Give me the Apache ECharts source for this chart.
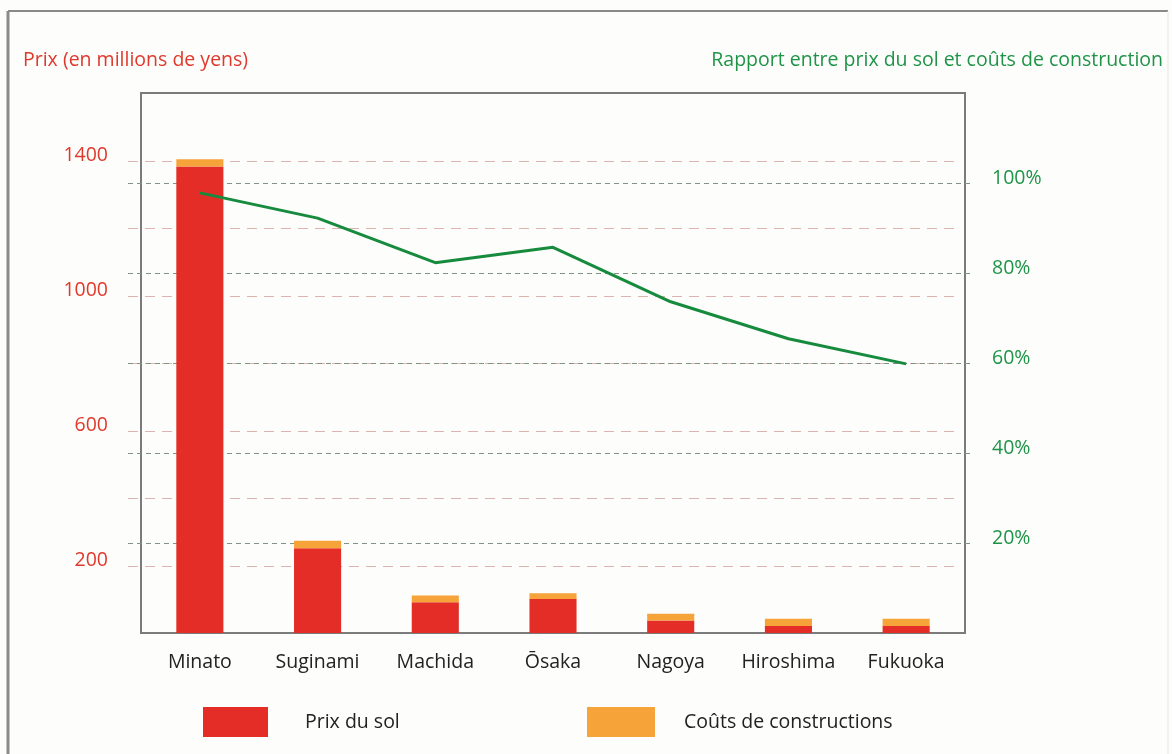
<!DOCTYPE html>
<html><head><meta charset="utf-8">
<script src="https://cdn.jsdelivr.net/npm/echarts@6/dist/echarts.min.js"></script>
<style>html,body{margin:0;padding:0;background:#fdfdfb}#c{width:1172px;height:754px}</style>
</head><body><div id="c"></div>
<script>
const categories = ['Minato', 'Suginami', 'Machida', 'Ōsaka', 'Nagoya', 'Hiroshima', 'Fukuoka'];
const landPrice = [1382, 251, 91, 101, 37, 21, 21];
const constructionCost = [22, 22, 20, 17, 20, 21, 21];
const ratioPct = [97.8, 92.2, 82.3, 85.7, 73.6, 65.4, 59.8];
const leftTickLabels = [200, 600, 1000, 1400];
const leftGridValues = [200, 400, 600, 800, 1000, 1200, 1400];
const rightTickLabels = [20, 40, 60, 80, 100];

const FONT = 'Open Sans';
const FS = 19.5;
const RED = '#e32d26', ORANGE = '#f6a33a', GREEN = '#178b3d';
const chart = echarts.init(document.getElementById('c'), null, {renderer: 'canvas'});

const baseOption = {
  backgroundColor: '#fdfdfb',
  animation: false,
  textStyle: {fontFamily: FONT},
  grid: {left: 141, right: 207, top: 93, bottom: 121, show: true, borderColor: '#7b7b7b', borderWidth: 2, backgroundColor: 'transparent'},
  legend: [
    {data: ['Prix du sol'], left: 203, top: 707, padding: 0, itemWidth: 65, itemHeight: 30, icon: 'rect',
     textStyle: {color: '#222', fontSize: FS, fontFamily: FONT, padding: [0, 0, 0, 32]}},
    {data: ['Coûts de constructions'], left: 587, top: 707, padding: 0, itemWidth: 68, itemHeight: 30, icon: 'rect',
     textStyle: {color: '#222', fontSize: FS, fontFamily: FONT, padding: [0, 0, 0, 24]}}
  ],
  xAxis: {
    type: 'category', data: categories,
    axisLine: {show: false}, axisTick: {show: false},
    axisLabel: {color: '#222', fontSize: FS, fontFamily: FONT, margin: 19, interval: 0, hideOverlap: false}
  },
  yAxis: [
    {type: 'value', min: 0, max: 1600, interval: 200, position: 'left',
     axisLine: {show: false}, axisTick: {show: false}, splitLine: {show: false},
     axisLabel: {color: '#e0392c', fontSize: FS, fontFamily: FONT, margin: 33, verticalAlign: 'bottom', lineHeight: 11,
       formatter: v => leftTickLabels.includes(v) ? String(v) : ''}},
    {type: 'value', min: 0, max: 120, interval: 20, position: 'right',
     axisLine: {show: false}, axisTick: {show: false}, splitLine: {show: false},
     axisLabel: {color: '#1f9448', fontSize: FS, fontFamily: FONT, margin: 27, verticalAlign: 'bottom', lineHeight: 10,
       formatter: v => rightTickLabels.includes(v) ? v + '%' : ''}}
  ],
  series: [
    {name: 'Prix du sol', type: 'bar', stack: 'total', data: landPrice, barWidth: '40%', itemStyle: {color: RED}, z: 3},
    {name: 'Coûts de constructions', type: 'bar', stack: 'total', data: constructionCost, barWidth: '40%', itemStyle: {color: ORANGE}, z: 3},
    {name: 'Rapport', type: 'line', yAxisIndex: 1, data: ratioPct, symbol: 'none', z: 4,
     lineStyle: {color: GREEN, width: 3}}
  ]
};
chart.setOption(baseOption);

const g = [];
// outer frame
g.push({type: 'line', shape: {x1: 8, y1: 11, x2: 1168, y2: 11}, style: {stroke: '#8a8a8a', lineWidth: 2}, z: 1});
g.push({type: 'line', shape: {x1: 8, y1: 11, x2: 8, y2: 754}, style: {stroke: '#8a8a8a', lineWidth: 3}, z: 1});
g.push({type: 'line', shape: {x1: 1168, y1: 11, x2: 1168, y2: 754}, style: {stroke: '#e6e6e6', lineWidth: 1}, z: 1});
// titles
g.push({type: 'text', left: 23, top: 50, style: {text: 'Prix (en millions de yens)', fill: '#e0392c', font: FS + 'px "Open Sans"'}, z: 5});
g.push({type: 'text', right: 9, top: 50, style: {text: 'Rapport entre prix du sol et coûts de construction', fill: '#1f9448', font: FS + 'px "Open Sans"'}, z: 5});
// dashed grid lines, positioned through the axes' scales
leftGridValues.forEach(v => {
  const y = Math.round(chart.convertToPixel({yAxisIndex: 0}, v)) + 0.5;
  g.push({type: 'line', shape: {x1: 128, y1: y, x2: 957, y2: y}, silent: true, z: 1,
    style: {stroke: '#dcb3ae', lineWidth: 1, lineDash: [10, 7]}});
});
rightTickLabels.forEach(v => {
  const y = Math.round(chart.convertToPixel({yAxisIndex: 1}, v)) + 0.5;
  g.push({type: 'line', shape: {x1: 128, y1: y, x2: 973, y2: y}, silent: true, z: 1,
    style: {stroke: '#7f9484', lineWidth: 1, lineDash: [5, 4]}});
});
chart.setOption({graphic: g});
</script></body></html>
